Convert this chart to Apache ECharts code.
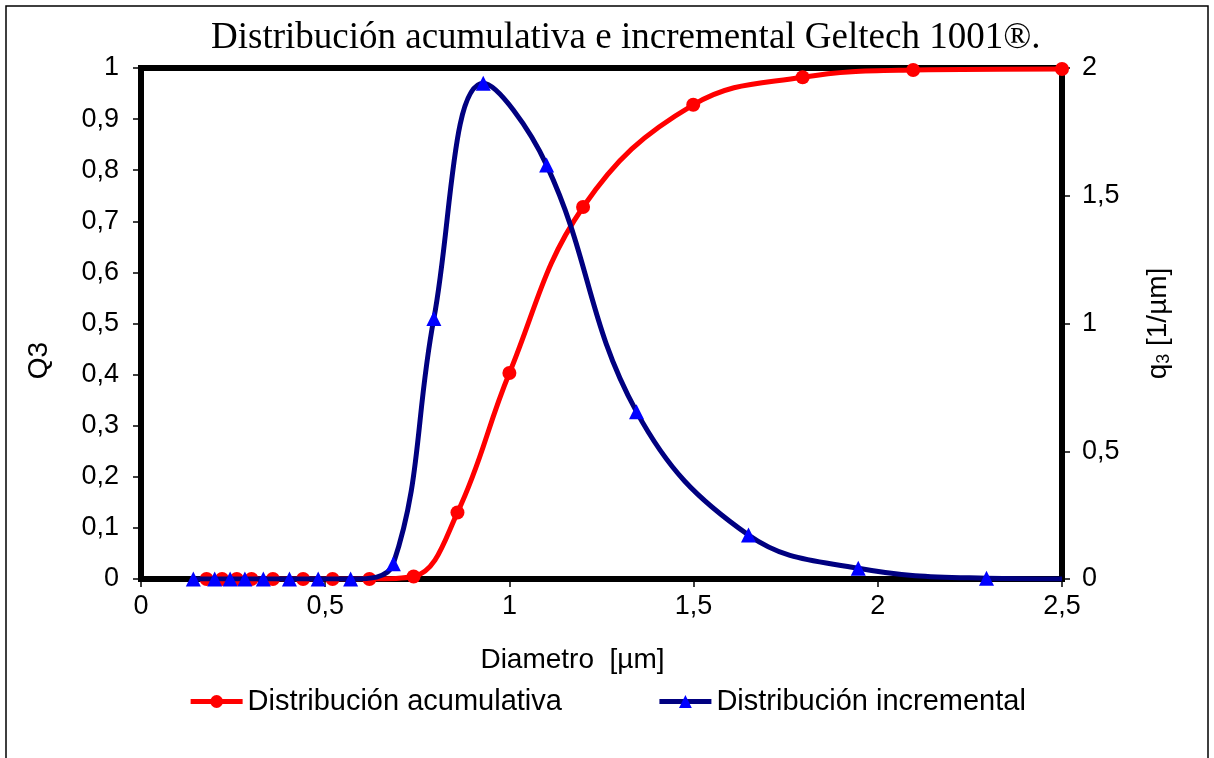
<!DOCTYPE html>
<html>
<head>
<meta charset="utf-8">
<script src="https://cdn.jsdelivr.net/npm/echarts@6/dist/echarts.min.js"></script>
<style>
  html, body { margin: 0; padding: 0; background: #fff; }
  #chart { width: 1214px; height: 758px; }
</style>
</head>
<body>
<div id="chart"></div>
<script>
// distribucion acumulativa (eje izquierdo)
const diamAcum = [0.178, 0.22, 0.26, 0.30, 0.358, 0.44, 0.52, 0.62, 0.74, 0.859, 1.0, 1.2, 1.499, 1.796, 2.096, 2.5];
const q3Acum = [0, 0, 0, 0, 0, 0, 0, 0, 0.005, 0.13, 0.403, 0.728, 0.928, 0.982, 0.996, 0.998];
// distribucion incremental (eje derecho)
const diamInc = [0.142, 0.2, 0.242, 0.282, 0.332, 0.403, 0.481, 0.569, 0.685, 0.795, 0.929, 1.101, 1.345, 1.649, 1.947, 2.295, 2.5];
const q3Inc = [0, 0, 0, 0, 0, 0, 0, 0, 0.06, 1.02, 1.94, 1.62, 0.655, 0.172, 0.042, 0.003, 0];

const coma = v => String(+v.toFixed(2)).replace('.', ',');
const sans = 'Liberation Sans, Arial, sans-serif';

const myChart = echarts.init(document.getElementById('chart'));

const acumData = diamAcum.map((d, i) => [d, q3Acum[i]]);
const incData = diamInc.map((d, i) => {
  // ultimo punto: la linea llega al borde sin marcador
  if (i === diamInc.length - 1) return { value: [d, q3Inc[i]], symbol: 'none' };
  return [d, q3Inc[i]];
});

const tickLbl = { fontFamily: sans, fontSize: 27, color: '#000' };
const nameTxt = { fontFamily: sans, fontSize: 28, color: '#000' };

const opt = {
  animation: false,
  backgroundColor: '#fff',
  graphic: [{
    type: 'rect',
    shape: { x: 6, y: 6, width: 1202, height: 780 },
    style: { fill: 'none', stroke: '#000', lineWidth: 1.5 },
    z: -1
  }],
  title: {
    text: 'Distribución acumulativa e incremental Geltech 1001®.',
    left: 206,
    top: 15,
    textStyle: { fontFamily: 'Liberation Serif, Times New Roman, serif', fontWeight: 'normal', fontSize: 37, color: '#000' }
  },
  legend: {
    top: 682,
    left: 'center',
    itemGap: 95,
    itemWidth: 52,
    itemHeight: 16,
    lineStyle: { width: 5 },
    textStyle: { fontFamily: sans, fontSize: 29, color: '#000' },
    data: ['Distribución acumulativa', 'Distribución incremental']
  },
  grid: {
    left: 141, right: 152, top: 68, bottom: 179,
    show: true, borderColor: '#000', borderWidth: 6
  },
  xAxis: {
    type: 'value',
    min: 0, max: 2.5, interval: 0.5,
    name: 'Diametro  [µm]',
    nameLocation: 'middle',
    nameGap: 67,
    nameTextStyle: Object.assign({ padding: [0, 58, 0, 0] }, nameTxt),
    axisLine: { show: true, lineStyle: { color: '#000', width: 6 } },
    axisTick: { show: true, length: 8, lineStyle: { color: '#000', width: 1.5 } },
    axisLabel: Object.assign({ margin: 14, formatter: coma }, tickLbl),
    splitLine: { show: false }
  },
  yAxis: [{
    type: 'value',
    min: 0, max: 1, interval: 0.1,
    name: 'Q3',
    nameLocation: 'middle',
    nameRotate: 90,
    nameGap: 88,
    nameTextStyle: Object.assign({ padding: [0, 74, 0, 0] }, nameTxt),
    axisLine: { show: true, lineStyle: { color: '#000', width: 6 } },
    axisTick: { show: true, length: 8, lineStyle: { color: '#000', width: 1.5 } },
    axisLabel: Object.assign({ margin: 22, formatter: coma }, tickLbl),
    splitLine: { show: false }
  }, {
    type: 'value',
    position: 'right',
    min: 0, max: 2, interval: 0.5,
    name: '{a|q}{b|3}{a| [1/µm]}',
    nameLocation: 'middle',
    nameRotate: 90,
    nameGap: 81,
    nameTextStyle: Object.assign({
      rich: {
        a: { fontFamily: sans, fontSize: 28, color: '#000' },
        b: { fontFamily: sans, fontSize: 18, color: '#000', padding: [12, 0, 0, 0] }
      }
    }, nameTxt),
    axisLine: { show: true, lineStyle: { color: '#000', width: 6 } },
    axisTick: { show: true, length: 8, lineStyle: { color: '#000', width: 1.5 } },
    axisLabel: Object.assign({ margin: 20, formatter: coma }, tickLbl),
    splitLine: { show: false }
  }],
  series: [{
    name: 'Distribución acumulativa',
    type: 'line',
    yAxisIndex: 0,
    smooth: 0.4,
    data: acumData,
    symbol: 'circle',
    symbolSize: 14,
    color: '#ff0000',
    lineStyle: { color: '#ff0000', width: 5 },
    itemStyle: { color: '#ff0000' },
    z: 2
  }, {
    name: 'Distribución incremental',
    type: 'line',
    yAxisIndex: 1,
    smooth: 0.4,
    data: incData,
    symbol: 'triangle',
    symbolSize: 15,
    color: '#000080',
    lineStyle: { color: '#000080', width: 5 },
    itemStyle: { color: '#0000ff' },
    z: 3
  }]
};
myChart.setOption(opt);
</script>
</body>
</html>
